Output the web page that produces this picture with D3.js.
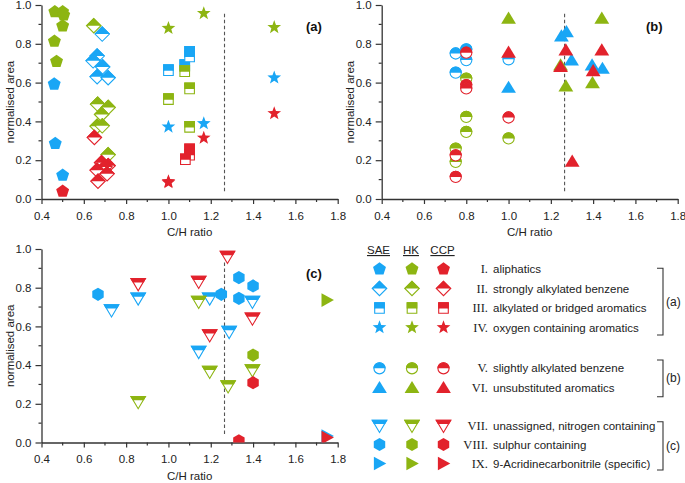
<!DOCTYPE html>
<html>
<head>
<meta charset="utf-8">
<title>C/H ratio vs normalised area</title>
<style>
  body { margin: 0; background: #fff; }
  svg { display: block; font-family: "Liberation Sans", Arial, sans-serif; }
</style>
</head>
<body>
<script src="https://cdn.jsdelivr.net/npm/d3@7"></script>
<script>
// sample colours
var samples = ["SAE", "HK", "CCP"];
var colours = { SAE: "#19a6f5", HK: "#8db512", CCP: "#e2222c" };

var xTicks = [0.4, 0.6, 0.8, 1.0, 1.2, 1.4, 1.6, 1.8];
var yTicks = [0.0, 0.2, 0.4, 0.6, 0.8, 1.0];
var dashedCH = 1.265;

// [sample, C/H ratio, normalised area]
var aliphatics = [
  ["SAE", 0.46, 0.592], ["SAE", 0.465, 0.286], ["SAE", 0.5, 0.122],
  ["HK", 0.463, 0.965], ["HK", 0.5, 0.965], ["HK", 0.505, 0.948], ["HK", 0.5, 0.892], ["HK", 0.461, 0.813], ["HK", 0.471, 0.709],
  ["CCP", 0.5, 0.04]
];
var strongAlkyl = [
  ["SAE", 0.687, 0.85], ["SAE", 0.663, 0.737], ["SAE", 0.644, 0.712], ["SAE", 0.689, 0.681], ["SAE", 0.663, 0.63], ["SAE", 0.715, 0.625],
  ["HK", 0.647, 0.893], ["HK", 0.665, 0.489], ["HK", 0.715, 0.472], ["HK", 0.684, 0.436], ["HK", 0.663, 0.375], ["HK", 0.687, 0.377], ["HK", 0.715, 0.228],
  ["CCP", 0.65, 0.317], ["CCP", 0.684, 0.187], ["CCP", 0.715, 0.172], ["CCP", 0.7, 0.165], ["CCP", 0.663, 0.148], ["CCP", 0.71, 0.13], ["CCP", 0.667, 0.092]
];
var bridged = [
  ["SAE", 1.0, 0.664], ["SAE", 1.077, 0.69], ["SAE", 1.1, 0.758], ["SAE", 1.1, 0.735],
  ["HK", 1.077, 0.659], ["HK", 1.1, 0.57], ["HK", 1.0, 0.515], ["HK", 1.1, 0.372],
  ["CCP", 1.1, 0.256], ["CCP", 1.1, 0.228], ["CCP", 1.08, 0.205]
];
var oxygen = [
  ["SAE", 1.0, 0.372], ["SAE", 1.167, 0.389], ["SAE", 1.5, 0.625],
  ["HK", 1.167, 0.957], ["HK", 1.0, 0.88], ["HK", 1.5, 0.885],
  ["CCP", 1.167, 0.315], ["CCP", 1.5, 0.441], ["CCP", 1.0, 0.09], ["CCP", 1.0, 0.085]
];
var slightAlkyl = [
  ["SAE", 0.75, 0.75], ["SAE", 0.8, 0.771], ["SAE", 0.8, 0.716], ["SAE", 0.75, 0.651], ["SAE", 1.0, 0.72],
  ["HK", 0.8, 0.621], ["HK", 0.8, 0.423], ["HK", 0.8, 0.346], ["HK", 0.75, 0.26], ["HK", 0.75, 0.191], ["HK", 1.0, 0.312],
  ["CCP", 0.8, 0.754], ["CCP", 0.8, 0.587], ["CCP", 0.8, 0.57], ["CCP", 0.75, 0.225], ["CCP", 0.75, 0.114], ["CCP", 1.0, 0.42]
];
var unsubst = [
  ["SAE", 1.25, 0.84], ["SAE", 1.274, 0.862], ["SAE", 1.298, 0.716], ["SAE", 1.395, 0.69], ["SAE", 1.444, 0.673], ["SAE", 1.0, 0.575],
  ["HK", 1.0, 0.931], ["HK", 1.441, 0.931], ["HK", 1.246, 0.69], ["HK", 1.271, 0.582], ["HK", 1.397, 0.599],
  ["CCP", 1.0, 0.756], ["CCP", 1.271, 0.768], ["CCP", 1.441, 0.768], ["CCP", 1.246, 0.682], ["CCP", 1.4, 0.661], ["CCP", 1.301, 0.194]
];
var nitrogen = [
  ["SAE", 0.731, 0.684], ["SAE", 0.857, 0.745], ["SAE", 1.195, 0.745], ["SAE", 1.143, 0.469], ["SAE", 1.287, 0.572], ["SAE", 1.397, 0.728],
  ["HK", 1.143, 0.728], ["HK", 0.857, 0.21], ["HK", 1.195, 0.366], ["HK", 1.282, 0.291], ["HK", 1.397, 0.374],
  ["CCP", 1.279, 0.96], ["CCP", 0.857, 0.819], ["CCP", 1.143, 0.831], ["CCP", 1.195, 0.555], ["CCP", 1.397, 0.641]
];
var sulphur = [
  ["SAE", 0.667, 0.766], ["SAE", 1.25, 0.766], ["SAE", 1.333, 0.852], ["SAE", 1.333, 0.745], ["SAE", 1.4, 0.809],
  ["HK", 1.4, 0.452],
  ["CCP", 1.4, 0.309], ["CCP", 1.333, 0.009]
];
var acridine = [
  ["SAE", 1.75, 0.033],
  ["HK", 1.75, 0.736],
  ["CCP", 1.75, 0.026]
];

var classNumerals = ["I.", "II.", "III.", "IV.", "V.", "VI.", "VII.", "VIII.", "IX."];
var classNames = ["aliphatics", "strongly alkylated benzene", "alkylated or bridged aromatics",
  "oxygen containing aromatics", "slightly alkylated benzene", "unsubstituted aromatics",
  "unassigned, nitrogen containing", "sulphur containing", "9-Acridinecarbonitrile (specific)"];

// ---- marker shapes (local coordinates) ----
function poly(pts) { return d3.line()(pts) + "Z"; }
function regular(n, r, start) {
  var p = [];
  for (var k = 0; k < n; k++) {
    var a = (start + k * 360 / n) * Math.PI / 180;
    p.push([r * Math.cos(a), r * Math.sin(a)]);
  }
  return p;
}
function starPts(ro, ri) {
  var p = [];
  for (var k = 0; k < 10; k++) {
    var a = (-90 + k * 36) * Math.PI / 180, r = k % 2 ? ri : ro;
    p.push([r * Math.cos(a), r * Math.sin(a)]);
  }
  return p;
}
// cut: y below which the marker is white (null = fully filled)
var shapes = {
  pentagon: { d: poly(regular(5, 6.8, -90)), cut: null },
  diamond:  { d: poly([[0, -7.2], [7.2, 0], [0, 7.2], [-7.2, 0]]), cut: 0 },
  square:   { d: poly([[-4.8, -5.3], [4.8, -5.3], [4.8, 5.3], [-4.8, 5.3]]), cut: 0.6 },
  star:     { d: poly(starPts(7.2, 3)), cut: null },
  circle:   { d: d3.symbol(d3.symbolCircle, Math.PI * 5.6 * 5.6)(), cut: 0 },
  triangle: { d: poly([[0, -6.8], [7.4, 5.4], [-7.4, 5.4]]), cut: null },
  invtri:   { d: poly([[-7.2, -5.4], [7.2, -5.4], [0, 6.8]]), cut: -1.6 },
  hexagon:  { d: poly(regular(6, 6.6, -90)), cut: null },
  righttri: { d: poly([[-5.6, -6.8], [6.8, 0], [-5.6, 6.8]]), cut: null }
};
var classShapes = ["pentagon", "diamond", "square", "star", "circle", "triangle", "invtri", "hexagon", "righttri"];
var classData = [aliphatics, strongAlkyl, bridged, oxygen, slightAlkyl, unsubst, nitrogen, sulphur, acridine];

var svg = d3.select("body").append("svg").attr("width", 685).attr("height", 483);
var defs = svg.append("defs");
Object.keys(shapes).forEach(function (k) {
  if (shapes[k].cut === null) return;
  defs.append("clipPath").attr("id", "cut-" + k).attr("clipPathUnits", "userSpaceOnUse")
    .append("rect").attr("x", -12).attr("y", -12).attr("width", 24).attr("height", 12 + shapes[k].cut);
});

function drawMarker(g, shape, colour, x, y) {
  var s = shapes[shape];
  var m = g.append("g").attr("transform", "translate(" + x + "," + y + ")");
  if (s.cut === null) {
    m.append("path").attr("d", s.d).attr("fill", colour);
  } else {
    m.append("path").attr("d", s.d).attr("fill", "#fff").attr("stroke", colour).attr("stroke-width", 1.1);
    m.append("path").attr("d", s.d).attr("fill", colour).attr("stroke", colour).attr("stroke-width", 1.1)
      .attr("clip-path", "url(#cut-" + shape + ")");
  }
}

var panels = [
  { id: "a", x0: 41.5, x1: 337.7, y0: 199, y1: 5, classes: [0, 1, 2, 3], dash: [0.03, 0.955], lx: 306, ly: 31 },
  { id: "b", x0: 381.7, x1: 677.7, y0: 199, y1: 5, classes: [4, 5], dash: [0.03, 0.955], lx: 646, ly: 31 },
  { id: "c", x0: 41.5, x1: 337.7, y0: 442.5, y1: 249, classes: [6, 7, 8], dash: [0.04, 0.93], lx: 306, ly: 278 }
];

panels.forEach(function (p) {
  var x = d3.scaleLinear().domain([0.4, 1.8]).range([p.x0, p.x1]);
  var y = d3.scaleLinear().domain([0, 1]).range([p.y0, p.y1]);
  var g = svg.append("g");

  // minor ticks
  var minorX = d3.range(0.5, 1.8, 0.2);
  var minorY = d3.range(0.1, 1.0, 0.2);
  g.selectAll(".mx").data(minorX).enter().append("line")
    .attr("x1", function (d) { return x(d); }).attr("x2", function (d) { return x(d); })
    .attr("y1", p.y0).attr("y2", p.y0 + 3).attr("stroke", "#333").attr("stroke-width", 1.2);
  g.selectAll(".my").data(minorY).enter().append("line")
    .attr("y1", function (d) { return y(d); }).attr("y2", function (d) { return y(d); })
    .attr("x1", p.x0).attr("x2", p.x0 - 3).attr("stroke", "#333").attr("stroke-width", 1.2);

  var xAxis = g.append("g").attr("transform", "translate(0," + p.y0 + ")")
    .call(d3.axisBottom(x).tickValues(xTicks).tickFormat(d3.format(".1f")).tickSize(5).tickSizeOuter(0));
  var yAxis = g.append("g").attr("transform", "translate(" + p.x0 + ",0)")
    .call(d3.axisLeft(y).tickValues(yTicks).tickFormat(d3.format(".1f")).tickSize(6).tickSizeOuter(0));
  [xAxis, yAxis].forEach(function (a) {
    a.select(".domain").attr("stroke", "#333").attr("stroke-width", 1.3);
    a.selectAll(".tick line").attr("stroke", "#333").attr("stroke-width", 1.2);
    a.selectAll("text").attr("font-size", 11.5).attr("fill", "#222")
      .attr("font-family", "Liberation Sans, Arial, sans-serif");
  });
  xAxis.selectAll("text").attr("dy", "1.1em");
  yAxis.selectAll("text").attr("x", -10);

  g.append("text").attr("x", (p.x0 + p.x1) / 2).attr("y", p.y0 + 37).attr("text-anchor", "middle")
    .attr("font-size", 11.5).attr("fill", "#222").text("C/H ratio");
  g.append("text").attr("transform", "translate(" + (p.x0 - 28) + "," + ((p.y0 + p.y1) / 2) + ") rotate(-90)")
    .attr("text-anchor", "middle").attr("font-size", 11.5).attr("fill", "#222").text("normalised area");

  g.append("line").attr("x1", x(dashedCH)).attr("x2", x(dashedCH))
    .attr("y1", y(p.dash[1])).attr("y2", y(p.dash[0]))
    .attr("stroke", "#555").attr("stroke-width", 1.1).attr("stroke-dasharray", "3.5,2.5");

  g.append("text").attr("x", p.lx).attr("y", p.ly).attr("font-size", 13).attr("font-weight", "bold")
    .attr("fill", "#111").text("(" + p.id + ")");

  defs.append("clipPath").attr("id", "plot-" + p.id)
    .append("rect").attr("x", p.x0).attr("y", p.y1 - 12).attr("width", p.x1 - p.x0 + 12).attr("height", p.y0 - p.y1 + 12);
  var marks = g.append("g").attr("clip-path", "url(#plot-" + p.id + ")");
  p.classes.forEach(function (ci) {
    samples.forEach(function (s) {
      classData[ci].filter(function (d) { return d[0] === s; }).forEach(function (d) {
        drawMarker(marks, classShapes[ci], colours[s], x(d[1]), y(d[2]));
      });
    });
  });
});

// ---- legend ----
var legX = { SAE: 379.5, HK: 412, CCP: 443.5 };
var rowY = [269, 288.5, 308, 327.5, 368.3, 387.7, 425.7, 444.5, 463.5];
var leg = svg.append("g");
samples.forEach(function (s) {
  leg.append("text").attr("x", legX[s] - 1).attr("y", 254).attr("text-anchor", "middle")
    .attr("font-size", 11.5).attr("fill", "#222").attr("text-decoration", "underline").text(s);
});
classShapes.forEach(function (sh, i) {
  samples.forEach(function (s) { drawMarker(leg, sh, colours[s], legX[s], rowY[i]); });
  leg.append("text").attr("x", 488).attr("y", rowY[i] + 4).attr("text-anchor", "end")
    .attr("font-family", "Liberation Serif, Times New Roman, serif").attr("font-size", 12.5)
    .attr("fill", "#222").text(classNumerals[i]);
  leg.append("text").attr("x", 493).attr("y", rowY[i] + 4)
    .attr("font-size", 11.5).attr("fill", "#222").text(classNames[i]);
});
var brackets = [["(a)", 268.3, 335], ["(b)", 360, 396.7], ["(c)", 421.7, 470]];
brackets.forEach(function (b) {
  leg.append("path").attr("d", "M657," + b[1] + "H663V" + b[2] + "H657")
    .attr("fill", "none").attr("stroke", "#333").attr("stroke-width", 1.1);
  leg.append("text").attr("x", 666).attr("y", (b[1] + b[2]) / 2 + 4)
    .attr("font-size", 12).attr("fill", "#222").text(b[0]);
});
</script>
</body>
</html>
